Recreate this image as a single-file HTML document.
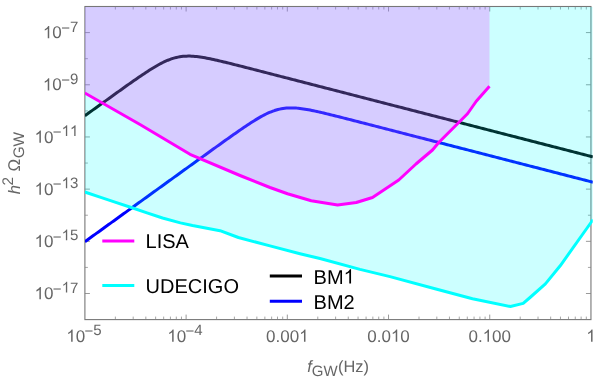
<!DOCTYPE html>
<html><head><meta charset="utf-8"><title>GW sensitivity plot</title>
<style>html,body{margin:0;padding:0;background:#fff;}body{width:599px;height:380px;position:relative;overflow:hidden;font-family:"Liberation Sans",sans-serif;}</style></head>
<body>
<svg width="599" height="380" viewBox="0 0 599 380" style="position:absolute;left:0;top:0;will-change:transform">
<rect width="599" height="380" fill="#fff"/>
<rect x="84.9" y="6.5" width="506.05" height="313.10" stroke="#777" stroke-width="1.1" fill="none"/>
<g stroke="#808080" stroke-width="0.8" fill="none">
<path d="M115.37,319.6 v-3 M115.37,6.5 v3" stroke-width="0.7"/>
<path d="M133.19,319.6 v-3 M133.19,6.5 v3" stroke-width="0.7"/>
<path d="M145.83,319.6 v-3 M145.83,6.5 v3" stroke-width="0.7"/>
<path d="M155.64,319.6 v-3 M155.64,6.5 v3" stroke-width="0.7"/>
<path d="M163.66,319.6 v-3 M163.66,6.5 v3" stroke-width="0.7"/>
<path d="M170.43,319.6 v-3 M170.43,6.5 v3" stroke-width="0.7"/>
<path d="M176.30,319.6 v-3 M176.30,6.5 v3" stroke-width="0.7"/>
<path d="M181.48,319.6 v-3 M181.48,6.5 v3" stroke-width="0.7"/>
<path d="M186.11,319.6 v-5 M186.11,6.5 v5"/>
<path d="M216.58,319.6 v-3 M216.58,6.5 v3" stroke-width="0.7"/>
<path d="M234.40,319.6 v-3 M234.40,6.5 v3" stroke-width="0.7"/>
<path d="M247.04,319.6 v-3 M247.04,6.5 v3" stroke-width="0.7"/>
<path d="M256.85,319.6 v-3 M256.85,6.5 v3" stroke-width="0.7"/>
<path d="M264.87,319.6 v-3 M264.87,6.5 v3" stroke-width="0.7"/>
<path d="M271.64,319.6 v-3 M271.64,6.5 v3" stroke-width="0.7"/>
<path d="M277.51,319.6 v-3 M277.51,6.5 v3" stroke-width="0.7"/>
<path d="M282.69,319.6 v-3 M282.69,6.5 v3" stroke-width="0.7"/>
<path d="M287.32,319.6 v-5 M287.32,6.5 v5"/>
<path d="M317.79,319.6 v-3 M317.79,6.5 v3" stroke-width="0.7"/>
<path d="M335.61,319.6 v-3 M335.61,6.5 v3" stroke-width="0.7"/>
<path d="M348.25,319.6 v-3 M348.25,6.5 v3" stroke-width="0.7"/>
<path d="M358.06,319.6 v-3 M358.06,6.5 v3" stroke-width="0.7"/>
<path d="M366.08,319.6 v-3 M366.08,6.5 v3" stroke-width="0.7"/>
<path d="M372.85,319.6 v-3 M372.85,6.5 v3" stroke-width="0.7"/>
<path d="M378.72,319.6 v-3 M378.72,6.5 v3" stroke-width="0.7"/>
<path d="M383.90,319.6 v-3 M383.90,6.5 v3" stroke-width="0.7"/>
<path d="M388.53,319.6 v-5 M388.53,6.5 v5"/>
<path d="M419.00,319.6 v-3 M419.00,6.5 v3" stroke-width="0.7"/>
<path d="M436.82,319.6 v-3 M436.82,6.5 v3" stroke-width="0.7"/>
<path d="M449.46,319.6 v-3 M449.46,6.5 v3" stroke-width="0.7"/>
<path d="M459.27,319.6 v-3 M459.27,6.5 v3" stroke-width="0.7"/>
<path d="M467.29,319.6 v-3 M467.29,6.5 v3" stroke-width="0.7"/>
<path d="M474.06,319.6 v-3 M474.06,6.5 v3" stroke-width="0.7"/>
<path d="M479.93,319.6 v-3 M479.93,6.5 v3" stroke-width="0.7"/>
<path d="M485.11,319.6 v-3 M485.11,6.5 v3" stroke-width="0.7"/>
<path d="M489.74,319.6 v-5 M489.74,6.5 v5"/>
<path d="M520.21,319.6 v-3 M520.21,6.5 v3" stroke-width="0.7"/>
<path d="M538.03,319.6 v-3 M538.03,6.5 v3" stroke-width="0.7"/>
<path d="M550.67,319.6 v-3 M550.67,6.5 v3" stroke-width="0.7"/>
<path d="M560.48,319.6 v-3 M560.48,6.5 v3" stroke-width="0.7"/>
<path d="M568.50,319.6 v-3 M568.50,6.5 v3" stroke-width="0.7"/>
<path d="M575.27,319.6 v-3 M575.27,6.5 v3" stroke-width="0.7"/>
<path d="M581.14,319.6 v-3 M581.14,6.5 v3" stroke-width="0.7"/>
<path d="M586.32,319.6 v-3 M586.32,6.5 v3" stroke-width="0.7"/>
<path d="M84.9,293.51 h5 M590.95,293.51 h-5" stroke-width="0.8"/>
<path d="M84.9,267.42 h3 M590.95,267.42 h-3" stroke-width="0.7"/>
<path d="M84.9,241.33 h5 M590.95,241.33 h-5" stroke-width="0.8"/>
<path d="M84.9,215.23 h3 M590.95,215.23 h-3" stroke-width="0.7"/>
<path d="M84.9,189.14 h5 M590.95,189.14 h-5" stroke-width="0.8"/>
<path d="M84.9,163.05 h3 M590.95,163.05 h-3" stroke-width="0.7"/>
<path d="M84.9,136.96 h5 M590.95,136.96 h-5" stroke-width="0.8"/>
<path d="M84.9,110.87 h3 M590.95,110.87 h-3" stroke-width="0.7"/>
<path d="M84.9,84.78 h5 M590.95,84.78 h-5" stroke-width="0.8"/>
<path d="M84.9,58.68 h3 M590.95,58.68 h-3" stroke-width="0.7"/>
<path d="M84.9,32.59 h5 M590.95,32.59 h-5" stroke-width="0.8"/>
</g>
<clipPath id="c"><rect x="85.0" y="7.0" width="507.75" height="312.60"/></clipPath>
<g clip-path="url(#c)" fill="none" stroke-linejoin="round">
<path d="M84.90,115.76 L86.59,114.54 L88.29,113.31 L89.98,112.09 L91.67,110.87 L93.37,109.65 L95.06,108.43 L96.75,107.21 L98.45,105.99 L100.14,104.77 L101.84,103.55 L103.53,102.33 L105.22,101.11 L106.92,99.89 L108.61,98.67 L110.30,97.45 L112.00,96.24 L113.69,95.02 L115.38,93.81 L117.08,92.59 L118.77,91.38 L120.46,90.17 L122.16,88.96 L123.85,87.76 L125.54,86.55 L127.24,85.35 L128.93,84.15 L130.62,82.96 L132.32,81.77 L134.01,80.59 L135.71,79.41 L137.40,78.24 L139.09,77.07 L140.79,75.92 L142.48,74.77 L144.17,73.64 L145.87,72.52 L147.56,71.41 L149.25,70.32 L150.95,69.25 L152.64,68.20 L154.33,67.18 L156.03,66.18 L157.72,65.22 L159.41,64.28 L161.11,63.38 L162.80,62.53 L164.49,61.71 L166.19,60.95 L167.88,60.23 L169.58,59.56 L171.27,58.96 L172.96,58.40 L174.66,57.91 L176.35,57.48 L178.04,57.11 L179.74,56.80 L181.43,56.55 L183.12,56.35 L184.82,56.22 L186.51,56.13 L188.20,56.10 L189.90,56.12 L191.59,56.18 L193.28,56.28 L194.98,56.41 L196.67,56.59 L198.36,56.79 L200.06,57.02 L201.75,57.27 L203.45,57.55 L205.14,57.85 L206.83,58.17 L208.53,58.50 L210.22,58.84 L211.91,59.20 L213.61,59.56 L215.30,59.94 L216.99,60.32 L218.69,60.72 L220.38,61.11 L222.07,61.51 L223.77,61.92 L225.46,62.33 L227.15,62.75 L228.85,63.16 L230.54,63.58 L232.23,64.01 L233.93,64.43 L235.62,64.86 L237.32,65.28 L239.01,65.71 L240.70,66.14 L242.40,66.57 L244.09,67.00 L245.78,67.44 L247.48,67.87 L249.17,68.30 L250.86,68.74 L252.56,69.17 L254.25,69.60 L255.94,70.04 L257.64,70.47 L259.33,70.91 L261.02,71.34 L262.72,71.78 L264.41,72.21 L266.10,72.65 L267.80,73.09 L269.49,73.52 L271.19,73.96 L272.88,74.39 L274.57,74.83 L276.27,75.27 L277.96,75.70 L279.65,76.14 L281.35,76.58 L283.04,77.01 L284.73,77.45 L286.43,77.89 L288.12,78.32 L289.81,78.76 L291.51,79.20 L293.20,79.63 L294.89,80.07 L296.59,80.50 L298.28,80.94 L299.97,81.38 L301.67,81.81 L303.36,82.25 L305.06,82.69 L306.75,83.12 L308.44,83.56 L310.14,84.00 L311.83,84.43 L313.52,84.87 L315.22,85.31 L316.91,85.74 L318.60,86.18 L320.30,86.62 L321.99,87.05 L323.68,87.49 L325.38,87.93 L327.07,88.36 L328.76,88.80 L330.46,89.24 L332.15,89.67 L333.84,90.11 L335.54,90.55 L337.23,90.98 L338.93,91.42 L340.62,91.86 L342.31,92.29 L344.01,92.73 L345.70,93.17 L347.39,93.60 L349.09,94.04 L350.78,94.47 L352.47,94.91 L354.17,95.35 L355.86,95.78 L357.55,96.22 L359.25,96.66 L360.94,97.09 L362.63,97.53 L364.33,97.97 L366.02,98.40 L367.71,98.84 L369.41,99.28 L371.10,99.71 L372.80,100.15 L374.49,100.59 L376.18,101.02 L377.88,101.46 L379.57,101.90 L381.26,102.33 L382.96,102.77 L384.65,103.21 L386.34,103.64 L388.04,104.08 L389.73,104.52 L391.42,104.95 L393.12,105.39 L394.81,105.83 L396.50,106.26 L398.20,106.70 L399.89,107.14 L401.58,107.57 L403.28,108.01 L404.97,108.45 L406.66,108.88 L408.36,109.32 L410.05,109.76 L411.75,110.19 L413.44,110.63 L415.13,111.06 L416.83,111.50 L418.52,111.94 L420.21,112.37 L421.91,112.81 L423.60,113.25 L425.29,113.68 L426.99,114.12 L428.68,114.56 L430.37,114.99 L432.07,115.43 L433.76,115.87 L435.45,116.30 L437.15,116.74 L438.84,117.18 L440.53,117.61 L442.23,118.05 L443.92,118.49 L445.62,118.92 L447.31,119.36 L449.00,119.80 L450.70,120.23 L452.39,120.67 L454.08,121.11 L455.78,121.54 L457.47,121.98 L459.16,122.42 L460.86,122.85 L462.55,123.29 L464.24,123.73 L465.94,124.16 L467.63,124.60 L469.32,125.04 L471.02,125.47 L472.71,125.91 L474.41,126.35 L476.10,126.78 L477.79,127.22 L479.49,127.65 L481.18,128.09 L482.87,128.53 L484.57,128.96 L486.26,129.40 L487.95,129.84 L489.65,130.27 L491.34,130.71 L493.03,131.15 L494.73,131.58 L496.42,132.02 L498.11,132.46 L499.81,132.89 L501.50,133.33 L503.19,133.77 L504.89,134.20 L506.58,134.64 L508.27,135.08 L509.97,135.51 L511.66,135.95 L513.36,136.39 L515.05,136.82 L516.74,137.26 L518.44,137.70 L520.13,138.13 L521.82,138.57 L523.52,139.01 L525.21,139.44 L526.90,139.88 L528.60,140.32 L530.29,140.75 L531.98,141.19 L533.68,141.63 L535.37,142.06 L537.06,142.50 L538.76,142.94 L540.45,143.37 L542.14,143.81 L543.84,144.24 L545.53,144.68 L547.23,145.12 L548.92,145.55 L550.61,145.99 L552.31,146.43 L554.00,146.86 L555.69,147.30 L557.39,147.74 L559.08,148.17 L560.77,148.61 L562.47,149.05 L564.16,149.48 L565.85,149.92 L567.55,150.36 L569.24,150.79 L570.93,151.23 L572.63,151.67 L574.32,152.10 L576.01,152.54 L577.71,152.98 L579.40,153.41 L581.10,153.85 L582.79,154.29 L584.48,154.72 L586.18,155.16 L587.87,155.60 L589.56,156.03 L591.26,156.47 L592.95,156.91" stroke="#000" stroke-width="3.0"/>
<path d="M84.90,241.69 L86.59,240.46 L88.29,239.24 L89.98,238.02 L91.67,236.80 L93.37,235.57 L95.06,234.35 L96.75,233.13 L98.45,231.91 L100.14,230.68 L101.84,229.46 L103.53,228.24 L105.22,227.02 L106.92,225.80 L108.61,224.57 L110.30,223.35 L112.00,222.13 L113.69,220.91 L115.38,219.68 L117.08,218.46 L118.77,217.24 L120.46,216.02 L122.16,214.79 L123.85,213.57 L125.54,212.35 L127.24,211.13 L128.93,209.90 L130.62,208.68 L132.32,207.46 L134.01,206.24 L135.71,205.01 L137.40,203.79 L139.09,202.57 L140.79,201.35 L142.48,200.12 L144.17,198.90 L145.87,197.68 L147.56,196.46 L149.25,195.23 L150.95,194.01 L152.64,192.79 L154.33,191.57 L156.03,190.35 L157.72,189.12 L159.41,187.90 L161.11,186.68 L162.80,185.46 L164.49,184.23 L166.19,183.01 L167.88,181.79 L169.58,180.57 L171.27,179.34 L172.96,178.12 L174.66,176.90 L176.35,175.68 L178.04,174.46 L179.74,173.23 L181.43,172.01 L183.12,170.79 L184.82,169.57 L186.51,168.34 L188.20,167.12 L189.90,165.90 L191.59,164.68 L193.28,163.46 L194.98,162.24 L196.67,161.02 L198.36,159.79 L200.06,158.57 L201.75,157.35 L203.45,156.13 L205.14,154.91 L206.83,153.69 L208.53,152.47 L210.22,151.26 L211.91,150.04 L213.61,148.82 L215.30,147.60 L216.99,146.39 L218.69,145.18 L220.38,143.96 L222.07,142.75 L223.77,141.54 L225.46,140.33 L227.15,139.13 L228.85,137.92 L230.54,136.72 L232.23,135.53 L233.93,134.34 L235.62,133.15 L237.32,131.97 L239.01,130.79 L240.70,129.62 L242.40,128.46 L244.09,127.31 L245.78,126.17 L247.48,125.04 L249.17,123.92 L250.86,122.82 L252.56,121.74 L254.25,120.68 L255.94,119.64 L257.64,118.62 L259.33,117.63 L261.02,116.68 L262.72,115.76 L264.41,114.87 L266.10,114.03 L267.80,113.23 L269.49,112.48 L271.19,111.79 L272.88,111.14 L274.57,110.55 L276.27,110.02 L277.96,109.55 L279.65,109.14 L281.35,108.79 L283.04,108.50 L284.73,108.27 L286.43,108.10 L288.12,107.98 L289.81,107.92 L291.51,107.90 L293.20,107.93 L294.89,108.01 L296.59,108.12 L298.28,108.27 L299.97,108.45 L301.67,108.67 L303.36,108.91 L305.06,109.17 L306.75,109.46 L308.44,109.76 L310.14,110.08 L311.83,110.42 L313.52,110.77 L315.22,111.13 L316.91,111.50 L318.60,111.88 L320.30,112.26 L321.99,112.66 L323.68,113.06 L325.38,113.46 L327.07,113.87 L328.76,114.28 L330.46,114.70 L332.15,115.11 L333.84,115.53 L335.54,115.96 L337.23,116.38 L338.93,116.81 L340.62,117.24 L342.31,117.66 L344.01,118.09 L345.70,118.53 L347.39,118.96 L349.09,119.39 L350.78,119.82 L352.47,120.26 L354.17,120.69 L355.86,121.12 L357.55,121.56 L359.25,121.99 L360.94,122.43 L362.63,122.86 L364.33,123.30 L366.02,123.73 L367.71,124.17 L369.41,124.61 L371.10,125.04 L372.80,125.48 L374.49,125.91 L376.18,126.35 L377.88,126.79 L379.57,127.22 L381.26,127.66 L382.96,128.10 L384.65,128.53 L386.34,128.97 L388.04,129.40 L389.73,129.84 L391.42,130.28 L393.12,130.71 L394.81,131.15 L396.50,131.59 L398.20,132.02 L399.89,132.46 L401.58,132.90 L403.28,133.33 L404.97,133.77 L406.66,134.21 L408.36,134.64 L410.05,135.08 L411.75,135.52 L413.44,135.95 L415.13,136.39 L416.83,136.83 L418.52,137.26 L420.21,137.70 L421.91,138.14 L423.60,138.57 L425.29,139.01 L426.99,139.45 L428.68,139.88 L430.37,140.32 L432.07,140.75 L433.76,141.19 L435.45,141.63 L437.15,142.06 L438.84,142.50 L440.53,142.94 L442.23,143.37 L443.92,143.81 L445.62,144.25 L447.31,144.68 L449.00,145.12 L450.70,145.56 L452.39,145.99 L454.08,146.43 L455.78,146.87 L457.47,147.30 L459.16,147.74 L460.86,148.18 L462.55,148.61 L464.24,149.05 L465.94,149.49 L467.63,149.92 L469.32,150.36 L471.02,150.80 L472.71,151.23 L474.41,151.67 L476.10,152.11 L477.79,152.54 L479.49,152.98 L481.18,153.42 L482.87,153.85 L484.57,154.29 L486.26,154.73 L487.95,155.16 L489.65,155.60 L491.34,156.04 L493.03,156.47 L494.73,156.91 L496.42,157.34 L498.11,157.78 L499.81,158.22 L501.50,158.65 L503.19,159.09 L504.89,159.53 L506.58,159.96 L508.27,160.40 L509.97,160.84 L511.66,161.27 L513.36,161.71 L515.05,162.15 L516.74,162.58 L518.44,163.02 L520.13,163.46 L521.82,163.89 L523.52,164.33 L525.21,164.77 L526.90,165.20 L528.60,165.64 L530.29,166.08 L531.98,166.51 L533.68,166.95 L535.37,167.39 L537.06,167.82 L538.76,168.26 L540.45,168.70 L542.14,169.13 L543.84,169.57 L545.53,170.01 L547.23,170.44 L548.92,170.88 L550.61,171.32 L552.31,171.75 L554.00,172.19 L555.69,172.63 L557.39,173.06 L559.08,173.50 L560.77,173.93 L562.47,174.37 L564.16,174.81 L565.85,175.24 L567.55,175.68 L569.24,176.12 L570.93,176.55 L572.63,176.99 L574.32,177.43 L576.01,177.86 L577.71,178.30 L579.40,178.74 L581.10,179.17 L582.79,179.61 L584.48,180.05 L586.18,180.48 L587.87,180.92 L589.56,181.36 L591.26,181.79 L592.95,182.23" stroke="#0000ff" stroke-width="3.0"/>
<path d="M84.75,192.00 L100.00,197.20 L115.00,202.20 L131.25,207.50 L147.00,212.80 L162.50,218.00 L180.40,222.90 L192.50,225.50 L220.00,230.70 L238.40,237.50 L270.00,245.90 L300.00,253.70 L320.00,258.50 L360.00,269.40 L390.00,276.60 L435.00,288.75 L472.50,298.75 L510.40,306.50 L523.20,303.40 L530.60,297.00 L545.40,283.90 L560.20,265.80 L591.00,222.50 L593.00,219.70 L592.75,5.5 L84.9,5.5 Z" fill="#00ffff" fill-opacity="0.2" stroke="none"/>
<path d="M84.75,93.00 L140.00,124.50 L190.00,154.30 L240.00,175.50 L270.00,187.50 L287.50,193.75 L311.25,200.70 L337.60,205.00 L356.25,202.50 L372.50,197.50 L398.75,180.00 L416.25,163.75 L432.50,150.00 L438.75,142.50 L458.75,122.50 L467.50,113.75 L476.25,101.25 L489.50,86.25 L489.5,5.5 L84.9,5.5 Z" fill="#ff00ff" fill-opacity="0.2" stroke="none"/>
<path d="M84.75,192.00 L100.00,197.20 L115.00,202.20 L131.25,207.50 L147.00,212.80 L162.50,218.00 L180.40,222.90 L192.50,225.50 L220.00,230.70 L238.40,237.50 L270.00,245.90 L300.00,253.70 L320.00,258.50 L360.00,269.40 L390.00,276.60 L435.00,288.75 L472.50,298.75 L510.40,306.50 L523.20,303.40 L530.60,297.00 L545.40,283.90 L560.20,265.80 L591.00,222.50 L593.00,219.70" stroke="#00ffff" stroke-width="3.0"/>
<path d="M84.75,93.00 L140.00,124.50 L190.00,154.30 L240.00,175.50 L270.00,187.50 L287.50,193.75 L311.25,200.70 L337.60,205.00 L356.25,202.50 L372.50,197.50 L398.75,180.00 L416.25,163.75 L432.50,150.00 L438.75,142.50 L458.75,122.50 L467.50,113.75 L476.25,101.25 L489.50,86.25" stroke="#ff00ff" stroke-width="3.0"/>
</g>
<g stroke-width="3.0" fill="none">
<path d="M102.3,240.9 H134.3" stroke="#ff00ff"/>
<path d="M102.3,285.6 H134.3" stroke="#00ffff"/>
<path d="M269.8,276.1 H302" stroke="#000"/>
<path d="M269.8,301.2 H302" stroke="#0000ff"/>
</g>
<g font-family="Liberation Sans, sans-serif" fill="#666" font-size="17" text-rendering="geometricPrecision">
<path transform="translate(34.56,299.21) scale(0.008301,-0.008301)" d="M763 0H583V1147Q518 1085 412.500 1023Q307 961 223 930V1104Q374 1175 487 1276Q600 1377 647 1472H763Z"/><text x="44.01" y="299.21" font-size="17">0</text><text x="52.86" y="293.81" font-size="15">−</text><path transform="translate(61.62,292.51) scale(0.007324,-0.007324)" d="M763 0H583V1147Q518 1085 412.500 1023Q307 961 223 930V1104Q374 1175 487 1276Q600 1377 647 1472H763Z"/><text x="69.96" y="292.51" font-size="15">7</text>
<path transform="translate(34.56,247.03) scale(0.008301,-0.008301)" d="M763 0H583V1147Q518 1085 412.500 1023Q307 961 223 930V1104Q374 1175 487 1276Q600 1377 647 1472H763Z"/><text x="44.01" y="247.03" font-size="17">0</text><text x="52.86" y="241.63" font-size="15">−</text><path transform="translate(61.62,240.33) scale(0.007324,-0.007324)" d="M763 0H583V1147Q518 1085 412.500 1023Q307 961 223 930V1104Q374 1175 487 1276Q600 1377 647 1472H763Z"/><text x="69.96" y="240.33" font-size="15">5</text>
<path transform="translate(34.56,194.84) scale(0.008301,-0.008301)" d="M763 0H583V1147Q518 1085 412.500 1023Q307 961 223 930V1104Q374 1175 487 1276Q600 1377 647 1472H763Z"/><text x="44.01" y="194.84" font-size="17">0</text><text x="52.86" y="189.44" font-size="15">−</text><path transform="translate(61.62,188.14) scale(0.007324,-0.007324)" d="M763 0H583V1147Q518 1085 412.500 1023Q307 961 223 930V1104Q374 1175 487 1276Q600 1377 647 1472H763Z"/><text x="69.96" y="188.14" font-size="15">3</text>
<path transform="translate(34.56,142.66) scale(0.008301,-0.008301)" d="M763 0H583V1147Q518 1085 412.500 1023Q307 961 223 930V1104Q374 1175 487 1276Q600 1377 647 1472H763Z"/><text x="44.01" y="142.66" font-size="17">0</text><text x="52.86" y="137.26" font-size="15">−</text><path transform="translate(61.62,135.96) scale(0.007324,-0.007324)" d="M763 0H583V1147Q518 1085 412.500 1023Q307 961 223 930V1104Q374 1175 487 1276Q600 1377 647 1472H763Z"/><path transform="translate(69.96,135.96) scale(0.007324,-0.007324)" d="M763 0H583V1147Q518 1085 412.500 1023Q307 961 223 930V1104Q374 1175 487 1276Q600 1377 647 1472H763Z"/>
<path transform="translate(42.90,90.48) scale(0.008301,-0.008301)" d="M763 0H583V1147Q518 1085 412.500 1023Q307 961 223 930V1104Q374 1175 487 1276Q600 1377 647 1472H763Z"/><text x="52.35" y="90.48" font-size="17">0</text><text x="61.20" y="85.08" font-size="15">−</text><text x="69.96" y="83.78" font-size="15">9</text>
<path transform="translate(42.90,38.29) scale(0.008301,-0.008301)" d="M763 0H583V1147Q518 1085 412.500 1023Q307 961 223 930V1104Q374 1175 487 1276Q600 1377 647 1472H763Z"/><text x="52.35" y="38.29" font-size="17">0</text><text x="61.20" y="32.89" font-size="15">−</text><text x="69.96" y="31.59" font-size="15">7</text>
<path transform="translate(66.30,341.80) scale(0.008301,-0.008301)" d="M763 0H583V1147Q518 1085 412.500 1023Q307 961 223 930V1104Q374 1175 487 1276Q600 1377 647 1472H763Z"/><text x="75.75" y="341.80" font-size="17">0</text><text x="84.60" y="336.40" font-size="15">−</text><text x="93.36" y="335.10" font-size="15">5</text>
<path transform="translate(167.30,341.80) scale(0.008301,-0.008301)" d="M763 0H583V1147Q518 1085 412.500 1023Q307 961 223 930V1104Q374 1175 487 1276Q600 1377 647 1472H763Z"/><text x="176.75" y="341.80" font-size="17">0</text><text x="185.60" y="336.40" font-size="15">−</text><text x="194.36" y="335.10" font-size="15">4</text>
<text x="266.05" y="341.80" font-size="17">0.00</text><path transform="translate(299.14,341.80) scale(0.008301,-0.008301)" d="M763 0H583V1147Q518 1085 412.500 1023Q307 961 223 930V1104Q374 1175 487 1276Q600 1377 647 1472H763Z"/>
<text x="367.26" y="341.80" font-size="17">0.0</text><path transform="translate(390.89,341.80) scale(0.008301,-0.008301)" d="M763 0H583V1147Q518 1085 412.500 1023Q307 961 223 930V1104Q374 1175 487 1276Q600 1377 647 1472H763Z"/><text x="400.34" y="341.80" font-size="17">0</text>
<text x="468.47" y="341.80" font-size="17">0.</text><path transform="translate(482.65,341.80) scale(0.008301,-0.008301)" d="M763 0H583V1147Q518 1085 412.500 1023Q307 961 223 930V1104Q374 1175 487 1276Q600 1377 647 1472H763Z"/><text x="492.10" y="341.80" font-size="17">00</text>
<path transform="translate(586.22,341.80) scale(0.008301,-0.008301)" d="M763 0H583V1147Q518 1085 412.500 1023Q307 961 223 930V1104Q374 1175 487 1276Q600 1377 647 1472H763Z"/>
<text x="307.2" y="372.3" font-size="16.4"><tspan font-style="italic">f</tspan><tspan font-size="15" dy="3.8">GW</tspan><tspan dy="-3.8" dx="0.5">(Hz)</tspan></text>
<g transform="translate(19.7,194.3) rotate(-90)"><text x="0" y="0" font-size="16.6" font-style="italic">h</text><text x="8.9" y="-6.7" font-size="15.3">2</text><text x="22.8" y="0" font-size="17">Ω</text><text x="36" y="3.9" font-size="15.3">GW</text></g>
</g>
<g font-family="Liberation Sans, sans-serif" fill="#000" font-size="20" text-rendering="geometricPrecision">
<text x="145.6" y="247.8">LISA</text>
<text x="145.6" y="293.2">UDECIGO</text>
<text x="313.60" y="283.60" font-size="20">BM</text><path transform="translate(343.60,283.60) scale(0.009766,-0.009766)" d="M763 0H583V1147Q518 1085 412.500 1023Q307 961 223 930V1104Q374 1175 487 1276Q600 1377 647 1472H763Z"/>
<text x="313.60" y="308.80" font-size="20">BM2</text>
</g>
</svg>
</body></html>
